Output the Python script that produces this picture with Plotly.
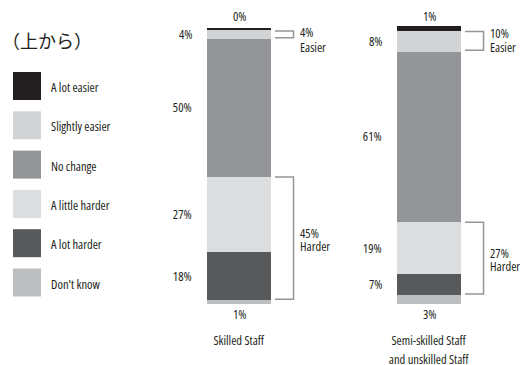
import plotly.graph_objects as go

# ---------------- data ----------------
categories = ["Skilled Staff", "Semi-skilled Staff and unskilled Staff"]
category_lines = [["Skilled Staff"], ["Semi-skilled Staff", "and unskilled Staff"]]
series_names = ["A lot easier", "Slightly easier", "No change",
                "A little harder", "A lot harder", "Don't know"]
series_colors = ["#231f20", "#d1d3d4", "#939598", "#dcddde", "#58595b", "#bcbec0"]

# bar heights (% as drawn), one value per category
a_lot_easier = [0.8, 1.8]
slightly_easier = [3.3, 7.6]
no_change = [50.0, 62.0]
a_little_harder = [27.5, 19.0]
a_lot_harder = [17.5, 7.6]
dont_know = [1.3, 3.2]

# printed labels
segment_labels = [["0%", "4%", "50%", "27%", "18%", "1%"],
                  ["1%", "8%", "61%", "19%", "7%", "3%"]]
easier_totals = ["4%", "10%"]
harder_totals = ["45%", "27%"]
bracket_words = ["Easier", "Harder"]
legend_title = "（上から）"

FONT = "Open Sans, Roboto, sans-serif"
FS = 12.5
TXT = "#231f20"
BAR_W = 0.335

series_values = [a_lot_easier, slightly_easier, no_change,
                 a_little_harder, a_lot_harder, dont_know]


def tfont():
    return dict(family=FONT, size=FS, color=TXT)


fig = go.Figure()

# stacked bars: bottom segment first
for name, vals, col in reversed(list(zip(series_names, series_values, series_colors))):
    fig.add_trace(go.Bar(x=list(range(len(categories))), y=vals, name=name,
                         marker=dict(color=col, line=dict(width=0)),
                         width=BAR_W, showlegend=False, hoverinfo="skip"))

ann = []
shapes = []
max_total = max(sum(s[i] for s in series_values) for i in range(len(categories)))

for i in range(len(categories)):
    vals = [s[i] for s in series_values]
    bottoms = []
    acc = 0.0
    for v in reversed(vals):
        bottoms.append(acc)
        acc += v
    bottoms = list(reversed(bottoms))
    tops = [b + v for b, v in zip(bottoms, vals)]
    left = i - BAR_W / 2
    right = i + BAR_W / 2

    for k in range(1, 5):
        ann.append(dict(x=left, y=(bottoms[k] + tops[k]) / 2, xref="x", yref="y",
                        text=segment_labels[i][k], showarrow=False, align="right",
                        xanchor="right", yanchor="middle", xshift=-13, font=tfont()))
    ann.append(dict(x=i, y=max_total + 3.2, xref="x", yref="y",
                    text=segment_labels[i][0], showarrow=False,
                    xanchor="center", yanchor="middle", font=tfont()))
    ann.append(dict(x=i, y=0, xref="x", yref="y",
                    text=segment_labels[i][5], showarrow=False,
                    xanchor="center", yanchor="top", yshift=0, font=tfont()))
    for j, line in enumerate(category_lines[i]):
        ann.append(dict(x=i, y=0, xref="x", yref="y", text=line, showarrow=False,
                        xanchor="center", yanchor="top", yshift=-26 - 18.5 * j,
                        font=tfont()))

    # brackets
    e_top, e_bot = tops[1] - 0.35, bottoms[1] + 0.5
    h_top, h_bot = tops[3] - 0.1, bottoms[4] + 0.4
    for (yt, yb) in [(e_top, e_bot), (h_top, h_bot)]:
        shapes.append(dict(type="path", xref="x", yref="y", xsizemode="pixel",
                           xanchor=right,
                           path=f"M 4,{yt} L 22.5,{yt} L 22.5,{yb} L 4,{yb}",
                           line=dict(color="#939598", width=1.5)))
    ann.append(dict(x=right, y=e_top, xref="x", yref="y", text=easier_totals[i],
                    showarrow=False, xanchor="left", yanchor="middle", align="left",
                    xshift=27, yshift=-1.5, font=tfont()))
    ann.append(dict(x=right, y=e_top, xref="x", yref="y", text=bracket_words[0],
                    showarrow=False, xanchor="left", yanchor="middle", align="left",
                    xshift=27, yshift=-16, font=tfont()))
    h_mid = (h_top + h_bot) / 2
    ann.append(dict(x=right, y=h_mid, xref="x", yref="y", text=harder_totals[i],
                    showarrow=False, xanchor="left", yanchor="middle", align="left",
                    xshift=27, yshift=4.5, font=tfont()))
    ann.append(dict(x=right, y=h_mid, xref="x", yref="y", text=bracket_words[1],
                    showarrow=False, xanchor="left", yanchor="middle", align="left",
                    xshift=27, yshift=-8.5, font=tfont()))

# legend: swatches on their own axes
legend_idx = list(range(len(series_names)))
fig.add_trace(go.Scatter(x=[27] * len(series_names), y=legend_idx, mode="markers",
                         marker=dict(symbol="square", size=28, color=series_colors,
                                     line=dict(width=0)),
                         xaxis="x2", yaxis="y2", showlegend=False, hoverinfo="skip"))
for k, name in enumerate(series_names):
    ann.append(dict(x=49, y=k, xref="x2", yref="y2", text=name, showarrow=False,
                    xanchor="left", yanchor="middle", align="left", yshift=-1.5,
                    font=tfont()))
ann.append(dict(x=0.0, y=1 - 40 / 365, xref="paper", yref="paper", text=legend_title,
                showarrow=False, xanchor="left", yanchor="middle", align="left",
                font=dict(family="Noto Sans CJK JP", size=18, color=TXT)))

fig.update_layout(
    width=520, height=365,
    margin=dict(l=0, r=0, t=0, b=0, pad=0),
    paper_bgcolor="white", plot_bgcolor="white",
    barmode="stack", bargap=0,
    xaxis=dict(range=[-239.2 / 190, (520 - 239.2) / 190], visible=False, domain=[0, 1]),
    yaxis=dict(range=[-61 / 2.75, (365 - 61) / 2.75], visible=False, domain=[0, 1]),
    xaxis2=dict(range=[0, 156], domain=[0, 0.3], anchor="y2", visible=False),
    yaxis2=dict(range=[(365 - 86) / 39.3, -86 / 39.3], domain=[0, 1], anchor="x2",
                visible=False),
    annotations=ann, shapes=shapes,
)

# use the condensed width of Open Sans for all chart text
post = ("var s=document.createElement('style');"
        "s.textContent='.js-plotly-plot svg text{font-stretch:condensed !important;}';"
        "document.head.appendChild(s);")
fig.write_html("out.html", post_script=post)
